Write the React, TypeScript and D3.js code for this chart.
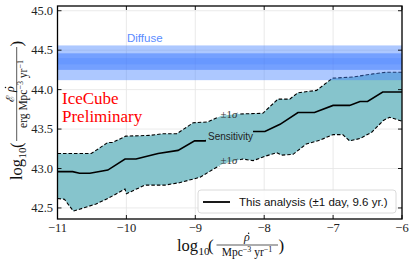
import React from 'react'
import * as d3 from 'd3'

// tick values
const xTicks = [-11, -10, -9, -8, -7, -6]
const yTicks = [42.5, 43.0, 43.5, 44.0, 44.5, 45.0]

// sensitivity band (log10 rho, log10 E*rho)
const upper: [number, number][] = [
  [-11, 43.19], [-10.51, 43.19], [-10.27, 43.33], [-10.2, 43.33], [-10.01, 43.41],
  [-9.66, 43.42], [-9.47, 43.44], [-9.27, 43.44], [-9.03, 43.58], [-8.82, 43.59],
  [-8.62, 43.67], [-8.39, 43.69], [-8.02, 43.70], [-7.8, 43.88], [-7.63, 43.88],
  [-7.51, 43.96], [-7.24, 43.99], [-7.01, 44.145], [-6.71, 44.16], [-6.42, 44.20],
  [-6.23, 44.22], [-6, 44.22],
]
const median: [number, number][] = [
  [-11, 42.96], [-10.78, 42.96], [-10.68, 42.94], [-10.53, 42.94], [-10.27, 42.98],
  [-10.02, 43.12], [-9.86, 43.12], [-9.73, 43.15], [-9.54, 43.19], [-9.25, 43.23],
  [-9.01, 43.35], [-8.86, 43.35], [-8.16, 43.47], [-7.99, 43.47], [-7.77, 43.56],
  [-7.51, 43.71], [-7.27, 43.71], [-7.0, 43.80], [-6.76, 43.80], [-6.61, 43.85],
  [-6.5, 43.85], [-6.28, 43.97], [-6, 43.97],
]
const lower: [number, number][] = [
  [-11, 42.62], [-10.9, 42.61], [-10.77, 42.46], [-10.44, 42.55], [-10.27, 42.62],
  [-10.02, 42.74], [-10.0, 42.68], [-9.73, 42.79], [-9.44, 42.79], [-9.23, 42.82],
  [-8.93, 42.89], [-8.74, 42.99], [-8.6, 43.06], [-8.31, 43.12], [-8.16, 43.10],
  [-7.97, 43.16], [-7.82, 43.2], [-7.75, 43.17], [-7.58, 43.18], [-7.39, 43.31],
  [-7.19, 43.36], [-7.0, 43.43], [-6.86, 43.43], [-6.76, 43.35], [-6.61, 43.38],
  [-6.44, 43.46], [-6.27, 43.61], [-6.18, 43.65], [-6, 43.60],
]

// diffuse flux band
const diffuseOuter = [44.12, 44.56]
const diffuseInner = [44.25, 44.46]
const diffuseCore = [44.32, 44.40]

const serif = 'Liberation Serif'
const sans = 'Liberation Sans'

export default function App() {
  const m = {left: 57.5, right: 402, top: 6, bottom: 219}
  const x = d3.scaleLinear().domain([-11, -6]).range([m.left, m.right])
  const y = d3.scaleLinear().domain([42.36, 45.06]).range([m.bottom, m.top])

  const line = d3.line<[number, number]>().x(d => x(d[0])).y(d => y(d[1]))
  const bandPath = line(upper.concat(lower.slice().reverse())) + 'Z'

  const band = (r: number[], fill: string, op: number) => (
    <rect x={m.left} width={m.right - m.left} y={y(r[1])} height={y(r[0]) - y(r[1])} fill={fill} fillOpacity={op} />
  )

  return (
    <svg width={415} height={266} style={{position: 'absolute', left: 0, top: 0}}>
      <defs>
        <clipPath id="plot"><rect x={m.left} y={m.top} width={m.right - m.left} height={m.bottom - m.top} /></clipPath>
        <mask id="gaps">
          <rect x={0} y={0} width={415} height={266} fill="white" />
          <rect x={206} y={128} width={47} height={14} fill="black" />
          <rect x={218} y={108} width={22} height={12} fill="black" />
          <rect x={218} y={154} width={22} height={12} fill="black" />
        </mask>
      </defs>
      <rect width={415} height={266} fill="white" />

      {/* grid */}
      <g stroke="#e4e4e4" strokeWidth={0.8}>
        {xTicks.map(t => <line key={'gx' + t} x1={x(t)} x2={x(t)} y1={m.top} y2={m.bottom} />)}
        {yTicks.map(t => <line key={'gy' + t} x1={m.left} x2={m.right} y1={y(t)} y2={y(t)} />)}
      </g>

      <g clipPath="url(#plot)">
        <path d={bandPath} fill="#86c4cc" />
        <g mask="url(#gaps)" fill="none" stroke="black">
          <path d={line(upper)!} strokeWidth={1.1} strokeDasharray="3.5,2" />
          <path d={line(lower)!} strokeWidth={1.1} strokeDasharray="3.5,2" />
          <path d={line(median)!} strokeWidth={1.6} />
        </g>
        {band(diffuseOuter, '#4a84ff', 0.45)}
        {band(diffuseInner, '#3b78ff', 0.5)}
        {band(diffuseCore, '#3b78ff', 0.2)}
      </g>

      <text x={127} y={42} fontFamily={sans} fontSize={11.5} fill="#5a8cff">Diffuse</text>
      <text x={208} y={139.5} fontFamily={sans} fontSize={10} fill="#222">Sensitivity</text>
      <text x={229} y={117.5} fontFamily={serif} fontSize={11} fill="#333" textAnchor="middle">±1<tspan fontStyle="italic">σ</tspan></text>
      <text x={229} y={164} fontFamily={serif} fontSize={11} fill="#333" textAnchor="middle">±1<tspan fontStyle="italic">σ</tspan></text>

      <text fontFamily={serif} fontSize={17} fill="#ff0000">
        <tspan x={62} y={103.5}>IceCube</tspan>
        <tspan x={62} y={121.5}>Preliminary</tspan>
      </text>

      {/* legend */}
      <rect x={198} y={190} width={198} height={23} rx={3} fill="white" fillOpacity={0.85} stroke="#d0d0d0" strokeWidth={0.8} />
      <line x1={203} x2={230} y1={202} y2={202} stroke="black" strokeWidth={1.8} />
      <text x={239} y={206} fontFamily={sans} fontSize={11.5} fill="#111">This analysis (±1 day, 9.6 yr.)</text>

      {/* frame and ticks */}
      <rect x={m.left} y={m.top} width={m.right - m.left} height={m.bottom - m.top} fill="none" stroke="black" strokeWidth={1.3} />
      <g stroke="black" strokeWidth={0.9}>
        {xTicks.map(t => (
          <g key={'tx' + t}>
            <line x1={x(t)} x2={x(t)} y1={m.bottom} y2={m.bottom - 4} />
            <line x1={x(t)} x2={x(t)} y1={m.top} y2={m.top + 4} />
          </g>
        ))}
        {yTicks.map(t => (
          <g key={'ty' + t}>
            <line x1={m.left} x2={m.left + 4} y1={y(t)} y2={y(t)} />
            <line x1={m.right} x2={m.right - 4} y1={y(t)} y2={y(t)} />
          </g>
        ))}
      </g>
      <g fontFamily={serif} fontSize={12.5} fill="#222">
        {xTicks.map(t => (
          <text key={'lx' + t} x={x(t)} y={231.5} textAnchor="middle">{'\u2212' + Math.abs(t)}</text>
        ))}
        {yTicks.map(t => (
          <text key={'ly' + t} x={53} y={y(t) + 4.2} textAnchor="end">{d3.format('.1f')(t)}</text>
        ))}
      </g>

      {/* x label */}
      <g fontFamily={serif} fill="#111">
        <text x={177} y={251} fontSize={16.5}>log</text>
        <text x={198.5} y={254.5} fontSize={11}>10</text>
        <text x={208} y={251} fontSize={17}>(</text>
        <text x={247} y={241} fontSize={12} textAnchor="middle" fontStyle="italic">ρ</text>
        <circle cx={248.6} cy={233.3} r={0.75} />
        <line x1={216.5} x2={278} y1={245} y2={245} stroke="#111" strokeWidth={0.7} />
        <text x={247} y={256} fontSize={11.5} textAnchor="middle">Mpc<tspan fontSize={8} dy={-4}>−3</tspan><tspan dy={4}> yr</tspan><tspan fontSize={8} dy={-4}>−1</tspan></text>
        <text x={278.5} y={251} fontSize={17}>)</text>
      </g>

      {/* y label */}
      <g transform="translate(22,180) rotate(-90)" fontFamily={serif} fill="#111">
        <text x={0} y={0} fontSize={16.5}>log</text>
        <text x={21.5} y={3.5} fontSize={11}>10</text>
        <text x={32} y={0} fontSize={17}>(</text>
        <text x={82} y={-8.5} fontSize={11} textAnchor="middle" fontFamily="DejaVu Serif">ℰ</text>
        <text x={91} y={-8.5} fontSize={12} textAnchor="middle" fontStyle="italic">ρ</text>
        <circle cx={92.6} cy={-16.5} r={0.75} />
        <line x1={39} x2={133} y1={-5.3} y2={-5.3} stroke="#111" strokeWidth={0.7} />
        <text x={86} y={5} fontSize={11.5} textAnchor="middle">erg Mpc<tspan fontSize={8} dy={-4}>−3</tspan><tspan dy={4}> yr</tspan><tspan fontSize={8} dy={-4}>−1</tspan></text>
        <text x={133.5} y={0} fontSize={17}>)</text>
      </g>
    </svg>
  )
}
